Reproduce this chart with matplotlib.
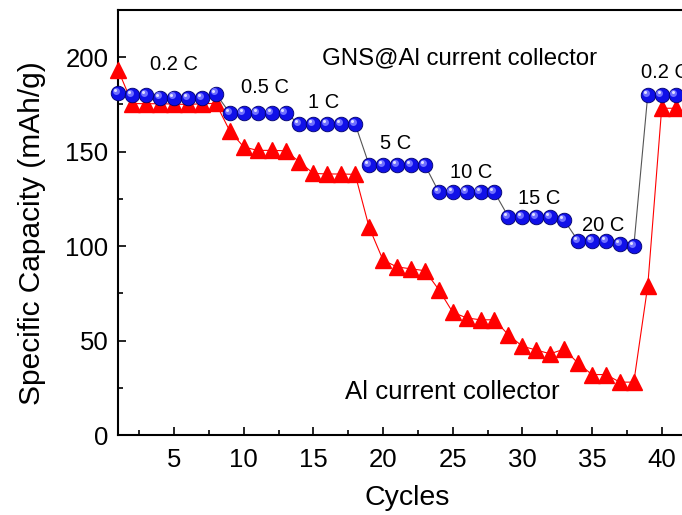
import numpy as np
import matplotlib
matplotlib.use('Agg')
import matplotlib.pyplot as plt
import matplotlib.transforms as mtransforms

plt.rcParams['font.family'] = ['Liberation Sans', 'DejaVu Sans']

# cycle numbers and specific capacity (mAh/g)
cycles = np.arange(1, 42)
gns_al = [181, 180, 180, 178.6, 178.6, 178.5, 178.5, 180.7,
          170.5, 170.5, 170.5, 170.5, 170.5,
          164.6, 164.6, 164.6, 164.6, 164.6,
          143, 143, 143, 143, 143,
          128.7, 128.5, 128.5, 128.5, 128.5,
          115.5, 115.5, 115.5, 115.5, 113.7,
          102.8, 102.8, 102.8, 101, 100,
          180, 180, 180]
al = [193, 175.5, 175.4, 175.4, 175.2, 175, 175.4, 175.6,
      161, 152.5, 150.7, 150.7, 150.5,
      144.6, 138.5, 138.2, 138.2, 138,
      110, 92.6, 89, 88, 87,
      77, 65, 62, 61, 61,
      53, 47, 45, 43, 45.5,
      38, 32, 32, 28, 28,
      79, 173, 173]

# rate labels: text, cycle, capacity
rate_labels = [('0.2 C', 5.0, 196), ('0.5 C', 11.5, 184), ('1 C', 15.7, 176),
               ('5 C', 20.9, 154.5), ('10 C', 26.3, 139), ('15 C', 31.2, 125),
               ('20 C', 35.8, 111)]

fig = plt.figure(figsize=(6.82, 5.15), dpi=100)
ax = fig.add_axes([0.1735, 0.1553, 0.858, 0.8252])

ax.plot(cycles, al, '-', color='red', lw=0.8, marker='^', ms=11,
        mfc='red', mec='red', zorder=3, clip_on=False)

ax.plot(cycles, gns_al, '-', color='#555555', lw=0.8, zorder=4, clip_on=False)
ax.plot(cycles, gns_al, 'o', ms=10.5, mfc='#1010e8', mec='#00006a', mew=0.6,
        zorder=5, clip_on=False)
# sphere highlight
hl = ax.transData + mtransforms.ScaledTranslation(-1.6 / 72, 1.6 / 72, fig.dpi_scale_trans)
ax.plot(cycles, gns_al, 'o', ms=5, mfc='#6f6fff', mec='none', transform=hl,
        zorder=6, clip_on=False)
hl2 = ax.transData + mtransforms.ScaledTranslation(-2.2 / 72, 2.2 / 72, fig.dpi_scale_trans)
ax.plot(cycles, gns_al, 'o', ms=2.2, mfc='#e0e0ff', mec='none', transform=hl2,
        zorder=7, clip_on=False)

for txt, x, y in rate_labels:
    ax.text(x, y, txt, ha='center', va='center', fontsize=14.5)
ax.text(38.5, 192, '0.2 C', ha='left', va='center', fontsize=14.5)
ax.text(25.5, 199.5, 'GNS@Al current collector', ha='center', va='center', fontsize=17.3)
ax.text(25.0, 22.8, 'Al current collector', ha='center', va='center', fontsize=18.6)

ax.set_xlim(1, 43)
ax.set_ylim(0, 225)
ax.set_xticks(np.arange(5, 45, 5))
ax.set_xticks(np.arange(2.5, 45, 5), minor=True)
ax.set_yticks(np.arange(0, 201, 50))
ax.set_yticks(np.arange(25, 201, 50), minor=True)
ax.tick_params(which='both', direction='in', labelsize=18.5, width=1.2)
ax.tick_params(which='major', length=6)
ax.tick_params(which='minor', length=3.5)
ax.tick_params(axis='x', pad=9)
ax.tick_params(axis='y', pad=7)
for s in ax.spines.values():
    s.set_linewidth(1.5)

ax.set_xlabel('Cycles', fontsize=20.5)
ax.set_ylabel('Specific Capacity (mAh/g)', fontsize=21.5)
ax.xaxis.set_label_coords(0.494, -0.118)
ax.yaxis.set_label_coords(-0.124, 0.474)

plt.savefig('out.png', dpi=100)
